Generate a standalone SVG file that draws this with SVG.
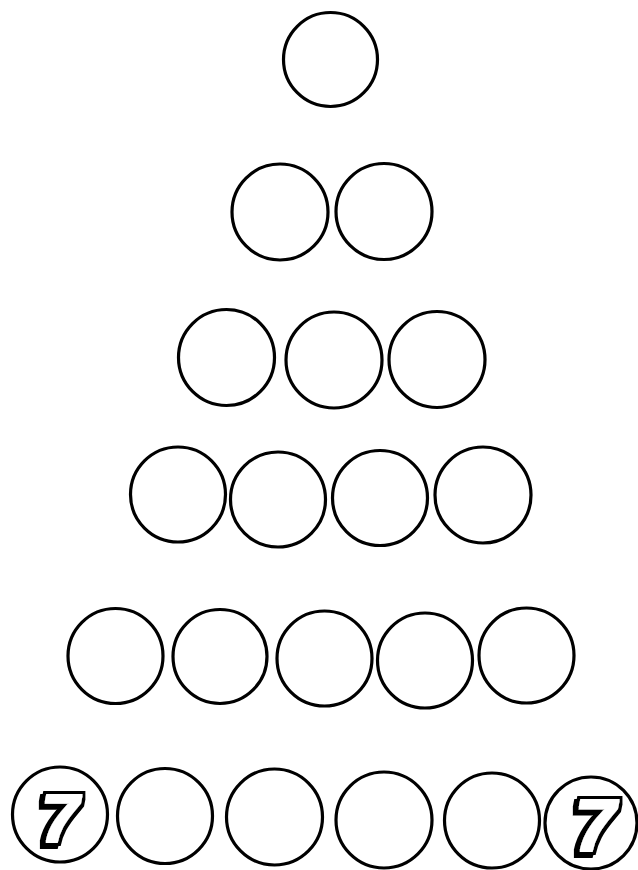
<svg xmlns="http://www.w3.org/2000/svg" width="638" height="870" viewBox="0 0 638 870">
<style>
.c{fill:#fff;stroke:#000;stroke-width:3.2}
.t{font-family:"Liberation Sans",Arial,sans-serif;font-weight:bold;font-style:italic;fill:#000;text-anchor:middle;filter:url(#sh)}
</style>
<defs>
<filter id="sh" x="-40%" y="-40%" width="180%" height="180%">
<feMorphology in="SourceAlpha" operator="dilate" radius="3.5" result="out"/>
<feMorphology in="SourceAlpha" operator="dilate" radius="1.2" result="in"/>
<feOffset in="out" dx="-3" dy="3" result="off"/>
<feFlood flood-color="#000" result="blk"/>
<feComposite in="blk" in2="off" operator="in" result="shadow"/>
<feComposite in="blk" in2="out" operator="in" result="border"/>
<feFlood flood-color="#fff" result="wht"/>
<feComposite in="wht" in2="in" operator="in" result="face"/>
<feMerge><feMergeNode in="shadow"/><feMergeNode in="border"/><feMergeNode in="face"/></feMerge>
</filter>
</defs>
<rect width="638" height="870" fill="#fff"/>
<g id="r1c1"><circle class="c" cx="330.5" cy="59.5" r="47"/></g>
<g id="r2c1"><circle class="c" cx="280" cy="212" r="48"/></g>
<g id="r2c2"><circle class="c" cx="384" cy="211.5" r="48"/></g>
<g id="r3c1"><circle class="c" cx="226.5" cy="357.5" r="48"/></g>
<g id="r3c2"><circle class="c" cx="334" cy="360" r="48"/></g>
<g id="r3c3"><circle class="c" cx="437" cy="359.5" r="48"/></g>
<g id="r4c1"><circle class="c" cx="178" cy="494.5" r="47.5"/></g>
<g id="r4c2"><circle class="c" cx="278" cy="499.5" r="47.5"/></g>
<g id="r4c3"><circle class="c" cx="380" cy="498" r="47.5"/></g>
<g id="r4c4"><circle class="c" cx="483" cy="495" r="48"/></g>
<g id="r5c1"><circle class="c" cx="115.5" cy="656" r="47.5"/></g>
<g id="r5c2"><circle class="c" cx="220" cy="656.5" r="47"/></g>
<g id="r5c3"><circle class="c" cx="324.5" cy="658.5" r="47.5"/></g>
<g id="r5c4"><circle class="c" cx="425" cy="660.5" r="47.5"/></g>
<g id="r5c5"><circle class="c" cx="526.5" cy="655.5" r="47.5"/></g>
<g id="r6c1"><circle class="c" cx="60" cy="814.5" r="47.5"/>
<text class="t" x="60" y="842" font-size="68">7</text></g>
<g id="r6c2"><circle class="c" cx="165" cy="816" r="47.5"/></g>
<g id="r6c3"><circle class="c" cx="274.5" cy="817" r="48"/></g>
<g id="r6c4"><circle class="c" cx="384" cy="820" r="48"/></g>
<g id="r6c5"><circle class="c" cx="492" cy="820.5" r="47.5"/></g>
<g id="r6c6"><circle class="c" cx="591" cy="823" r="46"/>
<text class="t" x="595" y="851" font-size="74">7</text></g>
<g id="connectors"/>
</svg>
